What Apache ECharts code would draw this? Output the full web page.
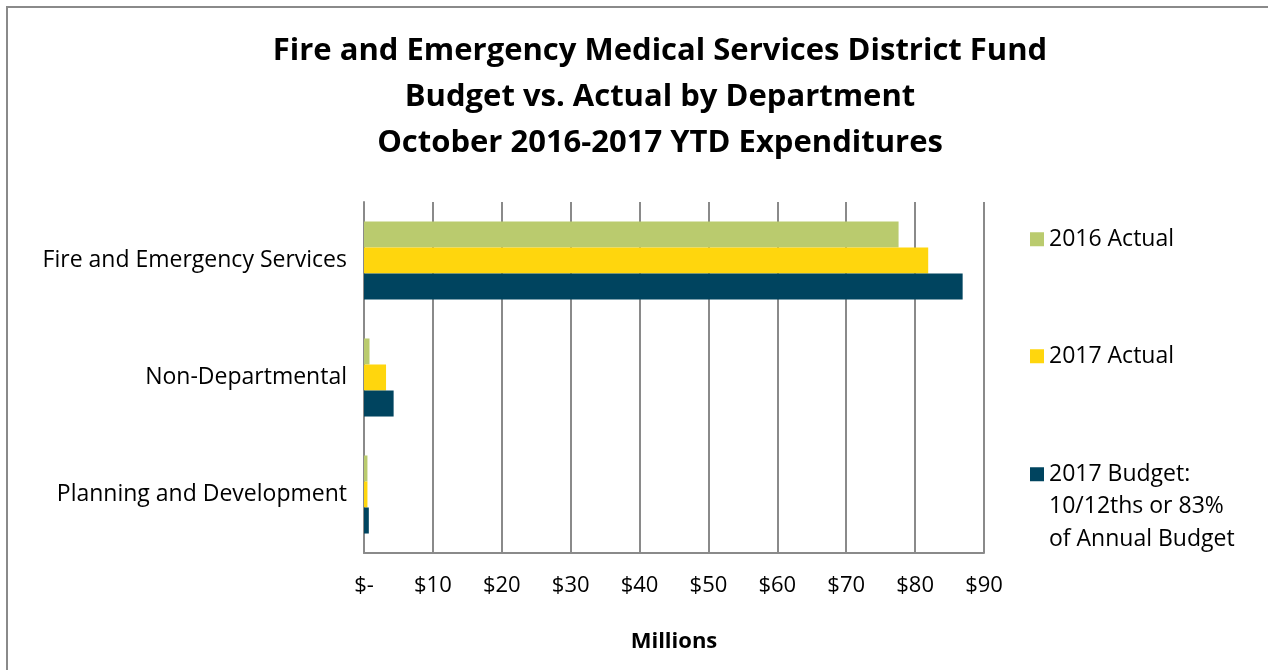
<!DOCTYPE html>
<html>
<head>
<meta charset="utf-8">
<title>Fire and EMS District Fund – Budget vs. Actual</title>
<script src="https://cdn.jsdelivr.net/npm/echarts@6/dist/echarts.min.js"></script>
<style>
  html, body { margin: 0; padding: 0; background: #ffffff; }
  #chart { width: 1268px; height: 670px; }
</style>
</head>
<body>
<div id="chart"></div>
<script>
// Departments, top to bottom
const departments = ['Fire and Emergency Services', 'Non-Departmental', 'Planning and Development'];

// YTD expenditures, $ millions
const actual2016 = [77.6, 0.8, 0.5];
const actual2017 = [81.9, 3.2, 0.5];
const budget2017 = [86.9, 4.3, 0.7];

const seriesNames = ['2016 Actual', '2017 Actual', '2017 Budget: 10/12ths or 83% of Annual Budget'];
const seriesColors = ['#BACB6E', '#FFD60D', '#00445F'];

// Axis ticks ($ millions)
const xMin = 0, xMax = 90, xStep = 10;

const FONT = '"Open Sans", "Noto Sans", sans-serif';
const chart = echarts.init(document.getElementById('chart'), null, { renderer: 'canvas' });

// One legend block per series; the long budget label wraps onto three lines
// with its swatch beside the first line (two leading blank lines keep the
// swatch, which sits at the block's vertical middle, level with line one).
function legendBlock(name, top) {
  return {
    data: [name],
    orient: 'vertical',
    left: 1030,
    top: top,
    padding: 0,
    itemWidth: 14,
    itemHeight: 14,
    itemGap: 0,
    icon: 'rect',
    selectedMode: false,
    formatter: n => n.indexOf(': ') > -1
      ? '\n\n' + n.replace(': ', ':\n').replace(' of Annual', '\nof Annual')
      : n,
    textStyle: { fontFamily: FONT, fontSize: 23, color: '#000', lineHeight: 32.5 }
  };
}

chart.setOption({
  animation: false,
  backgroundColor: '#ffffff',
  title: {
    text: 'Fire and Emergency Medical Services District Fund\nBudget vs. Actual by Department\nOctober 2016-2017 YTD Expenditures',
    left: 655,
    top: 23,
    textAlign: 'center',
    textStyle: {
      fontFamily: FONT, fontSize: 31, fontWeight: 'bold', color: '#000', lineHeight: 46
    }
  },
  graphic: [{
    type: 'rect',
    shape: { x: 7, y: 7, width: 1300, height: 700 },
    style: { fill: 'none', stroke: '#8a8a8a', lineWidth: 2 },
    silent: true
  }],
  legend: [
    legendBlock(seriesNames[0], 223),
    legendBlock(seriesNames[1], 340),
    legendBlock(seriesNames[2], 393)
  ],
  grid: { left: 364, right: 284, top: 202, bottom: 117, containLabel: false },
  xAxis: {
    type: 'value',
    min: xMin, max: xMax, interval: xStep,
    name: 'Millions',
    nameLocation: 'middle',
    nameGap: 78,
    nameTextStyle: { fontFamily: FONT, fontSize: 22, fontWeight: 'bold', color: '#000' },
    axisLine: { show: true, lineStyle: { color: '#8a8a8a', width: 2 } },
    axisTick: { show: false },
    splitLine: { show: true, lineStyle: { color: '#8a8a8a', width: 2 } },
    axisLabel: {
      fontFamily: FONT, fontSize: 22, color: '#000', margin: 22,
      formatter: v => v === 0 ? '$-' : '$' + v
    }
  },
  yAxis: {
    type: 'category',
    data: departments,
    inverse: true,
    axisLine: { show: true, lineStyle: { color: '#8a8a8a', width: 2 } },
    axisTick: { show: false },
    splitLine: { show: false },
    axisLabel: {
      fontFamily: FONT, fontSize: 23, color: '#000', margin: 17,
      padding: [4, 0, 0, 0]
    }
  },
  series: [actual2016, actual2017, budget2017].map((vals, i) => ({
    name: seriesNames[i],
    type: 'bar',
    data: vals,
    barGap: '0%',
    barCategoryGap: '33.3%',
    itemStyle: { color: seriesColors[i] }
  }))
});
</script>
</body>
</html>
